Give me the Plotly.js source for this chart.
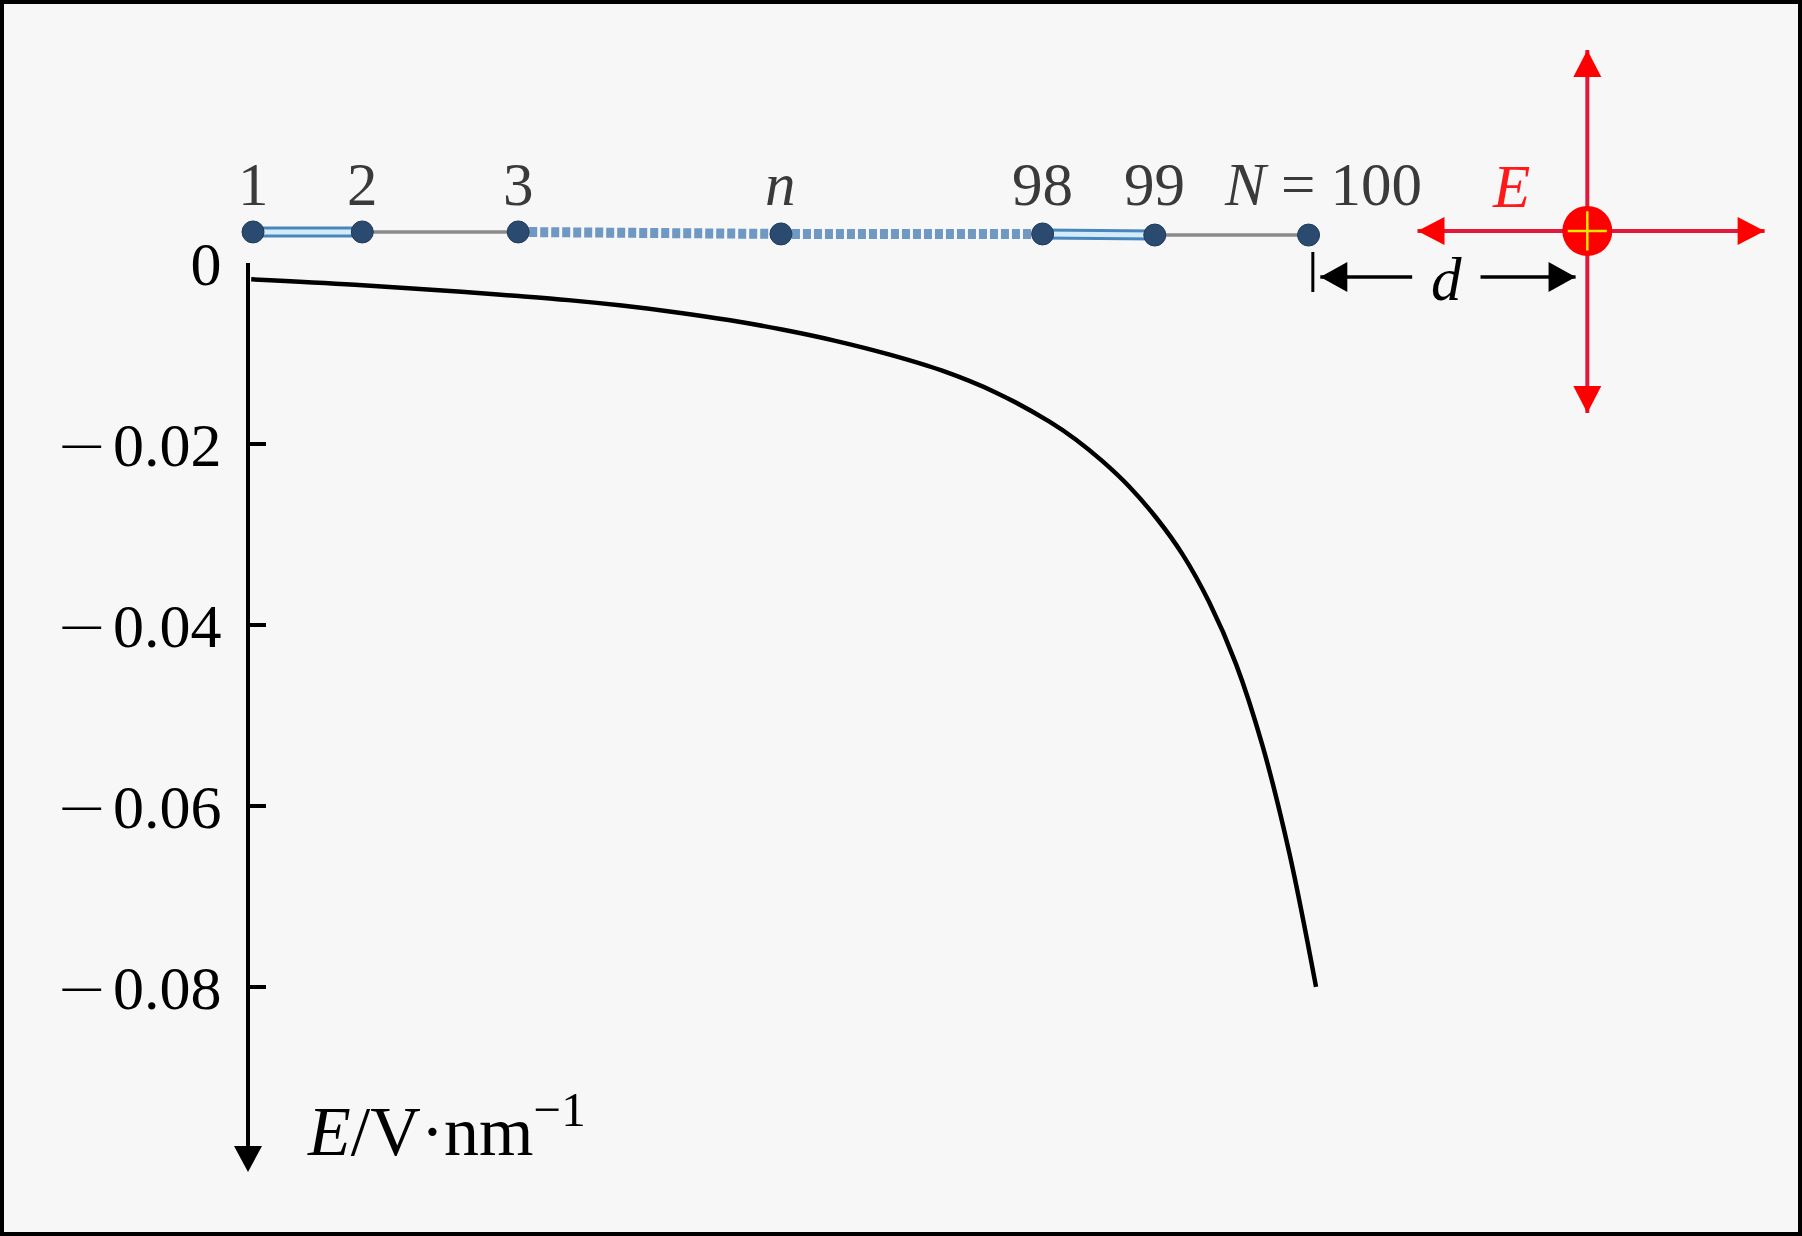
<!DOCTYPE html>
<html><head><meta charset="utf-8">
<script src="https://cdn.plot.ly/plotly-3.0.1.min.js"></script>
<style>html,body{margin:0;padding:0;background:#f7f7f7}</style>
</head><body><div id="chart" style="width:1802px;height:1236px"></div>
<script>
// ---- curve data: E-field along the chain (position in arbitrary units) ----
const pos    = [0.3, 10, 20, 25, 30, 35, 40, 45, 50, 55, 60, 65, 70, 75, 77.5, 80, 82.5, 85, 87.5, 90, 92.5, 95, 97.5, 100];
const fieldE = [-0.0018, -0.0024, -0.00318, -0.00362, -0.0041, -0.0047, -0.00543, -0.0063, -0.00735, -0.0086, -0.0101, -0.0119, -0.0143, -0.0175, -0.0195, -0.0219, -0.0247, -0.0281, -0.0322, -0.0375, -0.0443, -0.0534, -0.0652, -0.0800];
const yTickVals = [0, -0.02, -0.04, -0.06, -0.08];
const yTickText = ['0', '0.02', '0.04', '0.06', '0.08'];   // magnitudes; minus sign is prefixed below

// ---- schematic chain (same units as the plot) ----
const nodeLabels = ['1', '2', '3', '<i>n</i>', '98', '99', '<i>N</i> = 100'];
const nodeX = [0.47, 10.7, 25.3, 49.9, 74.4, 84.9, 99.3];
const nodeY = [0.00343, 0.00343, 0.00343, 0.00321, 0.00321, 0.00309, 0.00309];
const bondType = ['double', 'single', 'dotted', 'dotted', 'double', 'single'];
const labelY = 0.0087;

// ---- point charge and its field arrows ----
const chargeX = 125.4, chargeY = 0.00354;
const arrowTopY = 0.02354, arrowBottomY = -0.01657, arrowLeftX = 109.5, arrowRightX = 142.0;
const eLabelX = 118.3, eLabelY = 0.0085;

// ---- distance d marker ----
const dBarX = 99.7, dBarY = [0.00122, -0.0032];
const dArrowY = -0.00155, dLeftTip = 100.4, dLeftEnd = 109.0, dRightStart = 115.4, dRightTip = 124.3;
const dTextX = 112.2, dTextY = -0.0018;

// ---- y axis arrow / title ----
const yAxisMin = -0.0977, yAxisTip = -0.10044;
const yTitleX = 5.3, yTitleY = -0.0953;

const FONT = 'Liberation Serif, Times New Roman, serif';
const MINUS = '<span style="font-family:DejaVu Sans;font-weight:200">\u2212</span>\u200A';
const traces = [];

// bonds
for (let i = 0; i < bondType.length; i++) {
  const xs = [nodeX[i], nodeX[i+1]], ys = [nodeY[i], nodeY[i+1]];
  const base = {x: xs, y: ys, xaxis: 'x', yaxis: 'y2', mode: 'lines', hoverinfo: 'skip'};
  if (bondType[i] === 'double') {
    traces.push(Object.assign({}, base, {line: {color: '#4a86bd', width: 11}}));
    traces.push(Object.assign({}, base, {line: {color: '#d3ecf9', width: 5}}));
  } else if (bondType[i] === 'single') {
    traces.push(Object.assign({}, base, {line: {color: '#8a8a8a', width: 3.5}}));
  } else {
    traces.push(Object.assign({}, base, {line: {color: '#6f98c3', width: 10, dash: '8px,3px'}}));
  }
}
// nodes
traces.push({x: nodeX, y: nodeY, xaxis: 'x', yaxis: 'y2', mode: 'markers', hoverinfo: 'skip',
  marker: {size: 22, color: '#2a4a70', line: {color: '#1f3a5a', width: 1}}});

// field arrows (lines)
traces.push({x: [arrowLeftX, arrowRightX], y: [chargeY, chargeY], xaxis: 'x', yaxis: 'y2', mode: 'lines',
  line: {color: '#e3173c', width: 4}, hoverinfo: 'skip'});
traces.push({x: [chargeX, chargeX], y: [arrowBottomY, arrowTopY], xaxis: 'x', yaxis: 'y2', mode: 'lines',
  line: {color: '#e3173c', width: 4}, hoverinfo: 'skip'});
// charge
traces.push({x: [chargeX], y: [chargeY], xaxis: 'x', yaxis: 'y2', mode: 'markers', hoverinfo: 'skip',
  marker: {size: 50, color: '#ff0000', line: {width: 0}}});
traces.push({x: [chargeX], y: [chargeY], xaxis: 'x', yaxis: 'y2', mode: 'markers', hoverinfo: 'skip',
  marker: {symbol: 'cross-thin', size: 28, line: {color: '#e6e600', width: 2.5}}});

// d marker
traces.push({x: [dBarX, dBarX], y: dBarY, xaxis: 'x', yaxis: 'y2', mode: 'lines', line: {color: '#000', width: 3}, hoverinfo: 'skip'});
traces.push({x: [dLeftTip, dLeftEnd], y: [dArrowY, dArrowY], xaxis: 'x', yaxis: 'y2', mode: 'lines', line: {color: '#000', width: 3.5}, hoverinfo: 'skip'});
traces.push({x: [dRightStart, dRightTip], y: [dArrowY, dArrowY], xaxis: 'x', yaxis: 'y2', mode: 'lines', line: {color: '#000', width: 3.5}, hoverinfo: 'skip'});

// main curve
traces.push({x: pos, y: fieldE, xaxis: 'x', yaxis: 'y', mode: 'lines', hoverinfo: 'skip',
  line: {color: '#000', width: 4.5, shape: 'spline', smoothing: 1}});

function head(xa, ya, path, color) {
  return {type: 'path', xref: 'x', yref: 'y2', xsizemode: 'pixel', ysizemode: 'pixel',
    xanchor: xa, yanchor: ya, path: path, fillcolor: color, line: {width: 0}, layer: 'above'};
}
const shapes = [
  head(chargeX, arrowTopY, 'M 0,0 L -14,-27 L 14,-27 Z', '#ff0000'),
  head(chargeX, arrowBottomY, 'M 0,0 L -14,27 L 14,27 Z', '#ff0000'),
  head(arrowLeftX, chargeY, 'M 0,0 L 27,14 L 27,-14 Z', '#ff0000'),
  head(arrowRightX, chargeY, 'M 0,0 L -27,14 L -27,-14 Z', '#ff0000'),
  head(dLeftTip, dArrowY, 'M 0,0 L 27,15 L 27,-15 Z', '#000'),
  head(dRightTip, dArrowY, 'M 0,0 L -27,15 L -27,-15 Z', '#000'),
  head(0, yAxisTip, 'M 0,0 L -14,26 L 14,26 Z', '#000'),
  {type: 'rect', xref: 'paper', yref: 'paper', x0: 0, x1: 1, y0: 0, y1: 1, line: {color: '#000', width: 8}, layer: 'above'}
];

const annotations = nodeLabels.map((t, i) => ({
  x: nodeX[i], y: labelY, xref: 'x', yref: 'y2', text: t, showarrow: false,
  xshift: i === nodeLabels.length - 1 ? 14 : 0,
  font: {family: FONT, size: 61, color: '#3a3a3a'}
}));
annotations.push({x: eLabelX, y: eLabelY, xref: 'x', yref: 'y2', text: '<i>E</i>', showarrow: false,
  font: {family: FONT, size: 61, color: '#ff1a1a'}});
annotations.push({x: dTextX, y: dTextY, xref: 'x', yref: 'y2', text: '<i>d</i>', showarrow: false,
  font: {family: FONT, size: 61, color: '#000'}});
annotations.push({x: yTitleX, y: yTitleY, xref: 'x', yref: 'y2', xanchor: 'left', text: '<i>E</i>/V·nm<sup>\u22121</sup>', showarrow: false,
  font: {family: FONT, size: 70, color: '#000'}});

const tickText = yTickVals.map((v, i) => v < 0 ? MINUS + yTickText[i] : yTickText[i]);

const layout = {
  width: 1802, height: 1236,
  margin: {l: 0, r: 0, t: 0, b: 0, pad: 0},
  paper_bgcolor: '#f7f7f7', plot_bgcolor: 'rgba(0,0,0,0)',
  showlegend: false,
  xaxis: {domain: [0, 1], range: [-23.22, 145.5], visible: false, fixedrange: true},
  yaxis: {domain: [0.072, 0.7872], range: [yAxisMin, 0], anchor: 'free', position: 0.1376,
    showline: true, linecolor: '#000', linewidth: 4.5, ticks: 'inside', ticklen: 16, tickwidth: 4, tickcolor: '#000',
    tickvals: yTickVals, ticktext: tickText, showgrid: false, zeroline: false, ticklabelstandoff: 12,
    tickfont: {family: FONT, size: 62, color: '#000'}},
  yaxis2: {domain: [0, 1], range: [-0.10751, 0.02906], anchor: 'x', visible: false, fixedrange: true},
  shapes: shapes,
  annotations: annotations
};
Plotly.newPlot('chart', traces, layout, {staticPlot: true});
</script></body></html>
